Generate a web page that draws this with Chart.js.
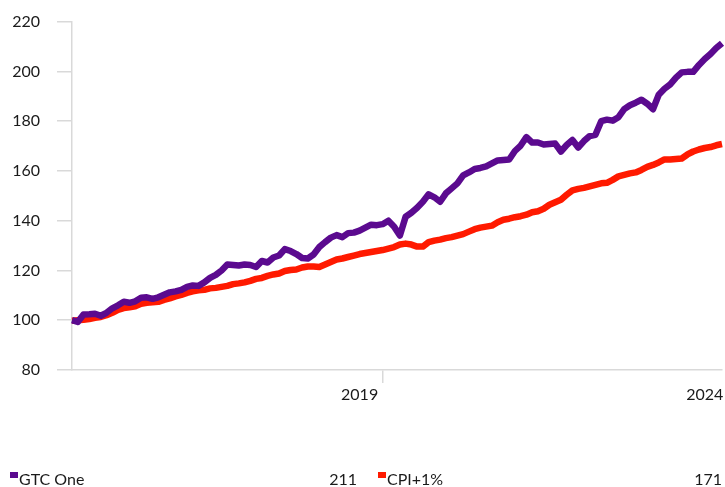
<!DOCTYPE html>
<html>
<head>
<meta charset="utf-8">
<script src="https://cdn.jsdelivr.net/npm/chart.js@4.4.1/dist/chart.umd.min.js"></script>
<style>
  html, body { margin: 0; padding: 0; background: #fff; }
  #wrap { position: relative; width: 725px; height: 487px; overflow: hidden; }
  #cw { position: absolute; left: 0; top: -5px; width: 725px; height: 492px; }
  #legend { position: absolute; left: 0; top: 469px; width: 725px; height: 20px;
            font-family: Lato, "Open Sans", sans-serif; font-size: 16px; color: #1a1a1a; }
  .lg { position: absolute; top: 0; white-space: nowrap; }
  .sw { display: inline-block; width: 8px; height: 6px; vertical-align: 7px; margin-right: 1px; }
  .val { position: absolute; top: 0; text-align: right; }
</style>
</head>
<body>
<div id="wrap">
  <div id="cw"><canvas id="c"></canvas></div>
  <div id="legend"></div>
</div>
<script>
// ---- data ----
const startYear = 2014, startMonth = 11; // first month of the monthly series
const gtcOne = [
  100.0, 99.3, 102.3, 102.4, 102.6, 101.8, 103.0, 104.8, 106.0, 107.4,
  107.0, 107.6, 109.0, 109.2, 108.6, 109.2, 110.2, 111.2, 111.6, 112.2,
  113.4, 114.0, 113.8, 115.2, 117.0, 118.2, 120.0, 122.4, 122.2, 122.0,
  122.4, 122.2, 121.4, 123.8, 123.2, 125.2, 126.0, 128.6, 127.8, 126.6,
  125.0, 124.8, 126.4, 129.4, 131.4, 133.2, 134.2, 133.4, 135.0, 135.2,
  136.0, 137.2, 138.4, 138.2, 138.6, 140.0, 137.6, 134.0, 141.6, 143.2,
  145.2, 147.6, 150.6, 149.4, 147.6, 151.0, 153.0, 155.0, 158.2, 159.4,
  160.8, 161.2, 161.8, 163.0, 164.2, 164.4, 164.6, 168.0, 170.2, 173.6,
  171.4, 171.4, 170.6, 170.8, 171.0, 167.8, 170.4, 172.4, 169.4, 172.0,
  174.0, 174.5, 180.0, 180.6, 180.2, 181.6, 184.8, 186.4, 187.4, 188.6,
  187.0, 184.8, 190.6, 193.0, 194.8, 197.5, 199.6, 199.8, 199.8, 202.6,
  205.0, 207.0, 209.4, 211.3
];
const cpiPlus1 = [
  99.8, 100.0, 100.2, 100.5, 101.0, 101.3, 102.0, 103.0, 104.2, 104.9,
  105.2, 105.6, 106.6, 107.0, 107.2, 107.4, 108.2, 108.8, 109.6, 110.2,
  111.0, 111.6, 112.0, 112.2, 112.8, 113.0, 113.4, 113.8, 114.5, 114.8,
  115.2, 115.8, 116.6, 117.0, 117.8, 118.4, 118.8, 119.8, 120.2, 120.4,
  121.2, 121.6, 121.6, 121.4, 122.4, 123.4, 124.4, 124.8, 125.4, 126.0,
  126.6, 127.0, 127.4, 127.8, 128.2, 128.8, 129.4, 130.4, 130.8, 130.4,
  129.6, 129.6, 131.4, 132.0, 132.4, 133.0, 133.4, 134.0, 134.6, 135.6,
  136.6, 137.2, 137.6, 138.0, 139.4, 140.4, 140.8, 141.4, 141.8, 142.4,
  143.4, 143.8, 144.8, 146.4, 147.4, 148.4, 150.4, 152.2, 152.8, 153.2,
  153.8, 154.4, 155.0, 155.2, 156.4, 157.8, 158.4, 159.0, 159.4, 160.4,
  161.6, 162.4, 163.4, 164.6, 164.6, 164.8, 165.0, 166.6, 167.8, 168.6,
  169.2, 169.6, 170.3, 170.8
];
const seriesNames = ['GTC One', 'CPI+1%'];
const xLabelMonths = { '2019-01': '2019', '2024-01': '2024' };
const xTickMarkMonths = ['2019-05'];
const yMin = 80, yMax = 220, yStep = 20;

const months = [];
for (let i = 0; i < gtcOne.length; i++) {
  const m = startMonth - 1 + i;
  const y = startYear + Math.floor(m / 12);
  const mm = (m % 12) + 1;
  months.push(y + '-' + String(mm).padStart(2, '0'));
}

const PURPLE = '#5B0A8F', RED = '#FF1A00', AXIS = '#d9d9d9';
const FONT = { family: 'Lato, "Open Sans", sans-serif', size: 16 };

new Chart(document.getElementById('c'), {
  type: 'line',
  data: {
    labels: months,
    datasets: [
      { label: seriesNames[0], data: gtcOne, borderColor: PURPLE, backgroundColor: PURPLE,
        borderWidth: 6.5, pointRadius: 0, tension: 0, borderJoinStyle: 'round', borderCapStyle: 'butt' },
      { label: seriesNames[1], data: cpiPlus1, borderColor: RED, backgroundColor: RED,
        borderWidth: 6.5, pointRadius: 0, tension: 0, borderJoinStyle: 'round', borderCapStyle: 'butt' }
    ]
  },
  options: {
    responsive: true,
    maintainAspectRatio: false,
    animation: false,
    layout: { padding: { top: 17, right: 3, bottom: 87, left: 0 } },
    plugins: { legend: { display: false }, tooltip: { enabled: false } },
    scales: {
      x: {
        type: 'category',
        offset: false,
        afterFit: (s) => { s.height = 30; },
        grid: {
          drawOnChartArea: false, drawTicks: true, tickLength: 13, lineWidth: 1.5,
          color: (ctx) => (ctx.tick && xTickMarkMonths.includes(months[ctx.index])) ? AXIS : 'rgba(0,0,0,0)'
        },
        border: { display: true, color: AXIS, width: 1.5 },
        ticks: {
          autoSkip: false, maxRotation: 0, minRotation: 0, padding: 2,
          color: '#1a1a1a', font: FONT,
          callback: (v, i) => xLabelMonths[months[i]] || ''
        }
      },
      y: {
        min: yMin, max: yMax,
        afterFit: (s) => { s.width = 72; },
        grid: { drawOnChartArea: false, drawTicks: true, tickLength: 15, color: AXIS, lineWidth: 1.5 },
        border: { display: true, color: AXIS, width: 1.5 },
        ticks: { stepSize: yStep, padding: 17, color: '#1a1a1a', font: FONT }
      }
    }
  }
});

// legend with last values
const lg = document.getElementById('legend');
const items = [
  { name: seriesNames[0], color: PURPLE, value: Math.round(gtcOne[gtcOne.length - 1]), left: 10, right: 357 },
  { name: seriesNames[1], color: RED, value: Math.round(cpiPlus1[cpiPlus1.length - 1]), left: 378, right: 722 }
];
items.forEach(it => {
  const a = document.createElement('div');
  a.className = 'lg';
  a.style.left = it.left + 'px';
  a.innerHTML = '<span class="sw" style="background:' + it.color + '"></span>' + it.name;
  lg.appendChild(a);
  const b = document.createElement('div');
  b.className = 'val';
  b.style.right = (725 - it.right) + 'px';
  b.textContent = it.value;
  lg.appendChild(b);
});
</script>
</body>
</html>
